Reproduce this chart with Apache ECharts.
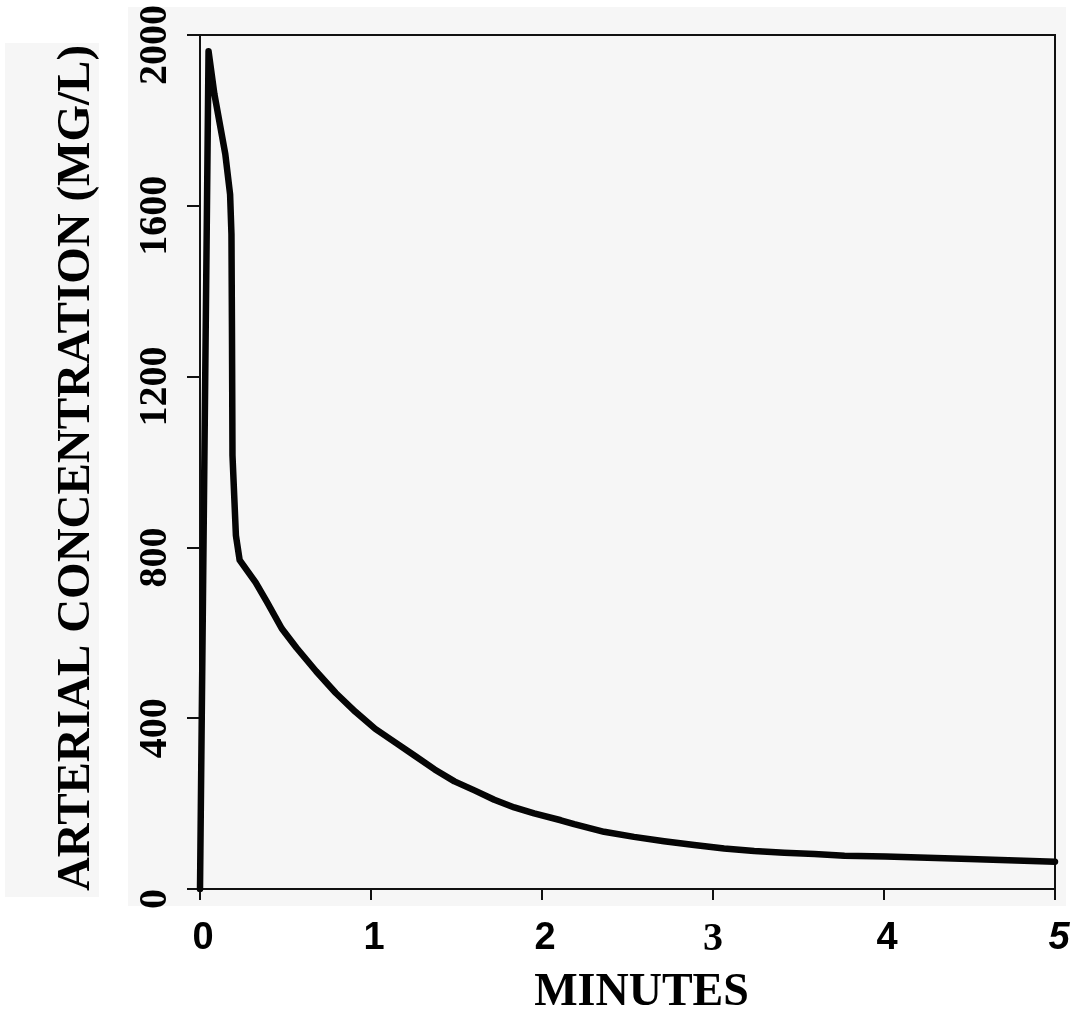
<!DOCTYPE html>
<html>
<head>
<meta charset="utf-8">
<title>Arterial concentration</title>
<script src="https://cdn.jsdelivr.net/npm/echarts@6/dist/echarts.min.js"></script>
<style>
  html, body { margin: 0; padding: 0; background: #ffffff; }
  #chart { width: 1082px; height: 1018px; }
</style>
</head>
<body>
<div id="chart"></div>
<script>
// Time after injection (minutes)
const minutes = [
  0, 0.05, 0.084, 0.148, 0.176, 0.184, 0.187, 0.19, 0.21, 0.232,
  0.325, 0.393, 0.478, 0.564, 0.679, 0.794, 0.909, 1.025, 1.139, 1.256,
  1.372, 1.488, 1.605, 1.721, 1.838, 1.954, 2.11, 2.188, 2.363, 2.538,
  2.714, 2.89, 3.065, 3.241, 3.417, 3.593, 3.769, 4.01, 4.5, 5.0
];
// Arterial concentration (mg/L)
const concentration = [
  0, 1962, 1862, 1721, 1627, 1533, 1300, 1015, 828, 770,
  718, 671, 610, 565, 510, 459, 415, 375, 344, 312,
  280, 252, 231, 209, 191, 177, 161, 152, 134, 122,
  112, 103, 95, 89, 85, 82, 78, 76, 70, 64
];
const xTicks = [0, 1, 2, 3, 4, 5];
const yTicks = [0, 400, 800, 1200, 1600, 2000];

const points = minutes.map((t, i) => [t, concentration[i]]);

const chart = echarts.init(document.getElementById('chart'), null, { renderer: 'canvas' });

const serif = '"Liberation Serif", "Times New Roman", serif';
const sans = '"Liberation Sans", Arial, sans-serif';

chart.setOption({
  animation: false,
  backgroundColor: '#ffffff',
  graphic: [
    { type: 'rect', z: -10, silent: true,
      shape: { x: 128, y: 7, width: 938, height: 899 },
      style: { fill: '#f6f6f6' } },
    { type: 'rect', z: -10, silent: true,
      shape: { x: 5, y: 43, width: 94, height: 854 },
      style: { fill: '#f6f6f6' } }
  ],
  grid: {
    left: 200, top: 35, right: 27, bottom: 129,
    outerBoundsMode: 'none',
    containLabel: false,
    show: true, borderColor: '#111111', borderWidth: 2,
    backgroundColor: 'transparent'
  },
  xAxis: {
    type: 'value', min: 0, max: 5, interval: 1,
    name: 'MINUTES', nameLocation: 'middle', nameGap: 81,
    nameTextStyle: { fontFamily: serif, fontWeight: 'bold', fontSize: 46, color: '#000', padding: [0, 0, 0, 28] },
    axisLine: { show: true, lineStyle: { color: '#111', width: 2 } },
    axisTick: { show: true, length: 11, inside: false, lineStyle: { color: '#111', width: 2 } },
    splitLine: { show: false },
    axisLabel: {
      margin: 31,
      formatter: v => xTicks.includes(v) ? (v === 3 ? '{s|3}' : v === 5 ? '{i|5}' : '{b|' + v + '}') : '',
      rich: {
        b: { fontFamily: sans, fontWeight: 'bold', fontSize: 38, color: '#000', padding: [0, 0, 0, 6] },
        s: { fontFamily: serif, fontWeight: 'bold', fontSize: 40, color: '#000' },
        i: { fontFamily: sans, fontWeight: 'bold', fontStyle: 'italic', fontSize: 38, color: '#000', padding: [0, 0, 0, 8] }
      }
    }
  },
  yAxis: {
    type: 'value', min: 0, max: 2000, interval: 400,
    name: 'ARTERIAL CONCENTRATION (MG/L)', nameLocation: 'middle', nameGap: 100,
    nameRotate: 90,
    nameTextStyle: { fontFamily: serif, fontWeight: 'bold', fontSize: 47, color: '#000', padding: [0, 12, 0, 0] },
    axisLine: { show: true, lineStyle: { color: '#111', width: 2 } },
    axisTick: { show: true, length: 13, inside: false, lineStyle: { color: '#111', width: 2 } },
    splitLine: { show: false },
    axisLabel: {
      rotate: 90, margin: 24,
      fontFamily: serif, fontWeight: 'bold', fontSize: 40, color: '#000',
      padding: [0, 20, 0, 0],
      formatter: v => yTicks.includes(v) ? String(v) : ''
    }
  },
  series: [{
    type: 'line',
    data: points,
    showSymbol: false,
    smooth: false,
    lineStyle: { color: '#050505', width: 6.5, join: 'round', cap: 'round' },
    clip: true
  }]
});
</script>
</body>
</html>
